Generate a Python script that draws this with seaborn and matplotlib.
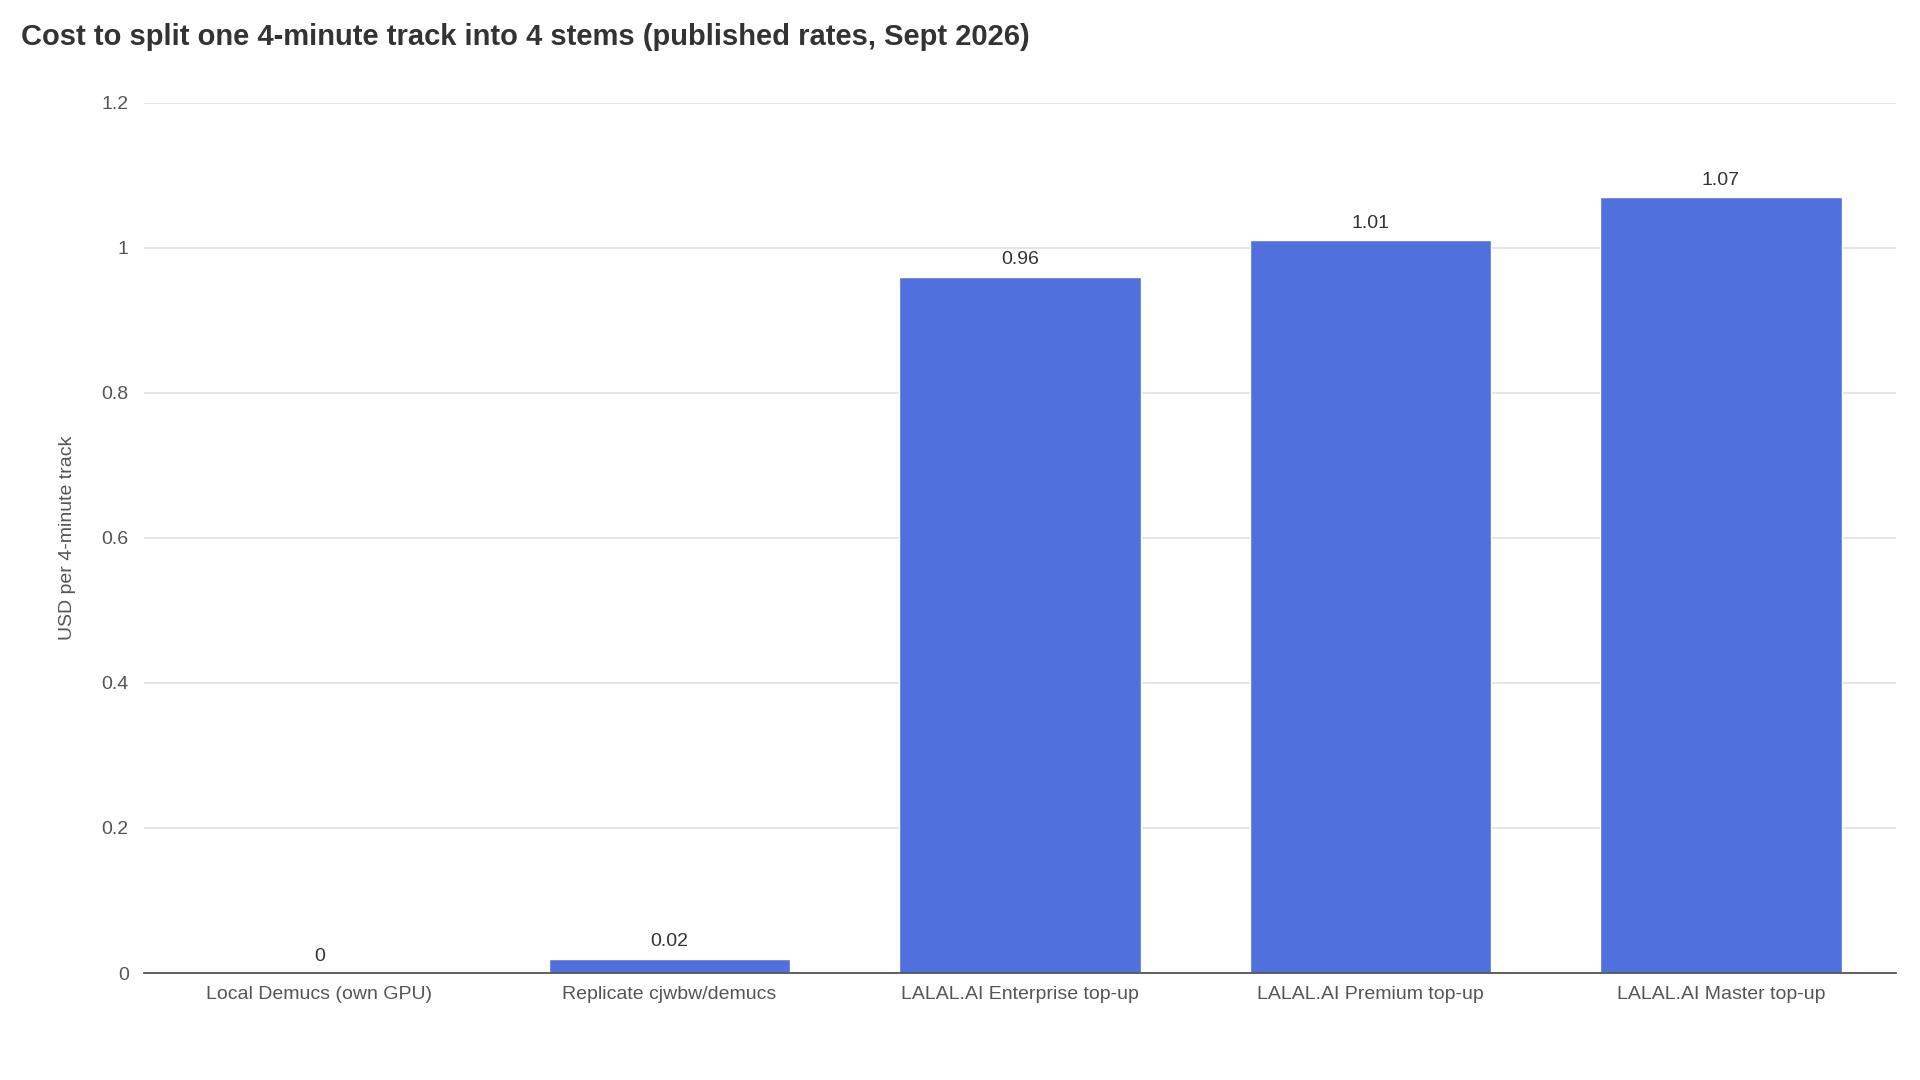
import matplotlib.pyplot as plt
import seaborn as sns
import pandas as pd

# data
services = ["Local Demucs (own GPU)", "Replicate cjwbw/demucs",
            "LALAL.AI Enterprise top-up", "LALAL.AI Premium top-up",
            "LALAL.AI Master top-up"]
usd_per_track = [0, 0.02, 0.96, 1.01, 1.07]
yticks = [0, 0.2, 0.4, 0.6, 0.8, 1.0, 1.2]
ytick_labels = ["0", "0.2", "0.4", "0.6", "0.8", "1", "1.2"]

df = pd.DataFrame({"service": services, "usd": usd_per_track})

sns.set_style("white")
plt.rcParams["font.family"] = ["Liberation Sans", "DejaVu Sans"]

fig = plt.figure(figsize=(19.2, 10.8), dpi=100)
ax = fig.add_axes([0.075, 0.099, 0.9125, 0.806])

sns.barplot(data=df, x="service", y="usd", color="#5070dd",
            saturation=1, width=0.69, ax=ax)

for patch, val in zip(ax.patches, usd_per_track):
    ax.annotate(f"{val:g}", (patch.get_x() + patch.get_width() / 2, val),
                xytext=(0, 6), textcoords="offset points",
                ha="center", va="bottom", fontsize=14, color="#333333")

ax.set_xlim(-0.5, len(services) - 0.5)
ax.set_ylim(0, 1.2)
ax.set_yticks(yticks)
ax.set_yticklabels(ytick_labels)
ax.yaxis.grid(True, color="#e0e0e0", linewidth=1.2)
ax.set_axisbelow(True)
for side in ["top", "right", "left"]:
    ax.spines[side].set_visible(False)
ax.spines["bottom"].set_color("#555555")
ax.spines["bottom"].set_linewidth(1.3)
ax.tick_params(axis="both", length=0, labelsize=14, colors="#555555")
ax.tick_params(axis="x", pad=9)
ax.tick_params(axis="y", pad=11)

ax.set_xlabel("")
ax.set_ylabel("USD per 4-minute track", fontsize=14, color="#555555",
              labelpad=18)

fig.text(0.011, 0.966, "Cost to split one 4-minute track into 4 stems (published rates, Sept 2026)",
         fontsize=21, fontweight="bold", color="#333333", ha="left", va="center")

fig.savefig("out.png", dpi=100)
plt.close(fig)
